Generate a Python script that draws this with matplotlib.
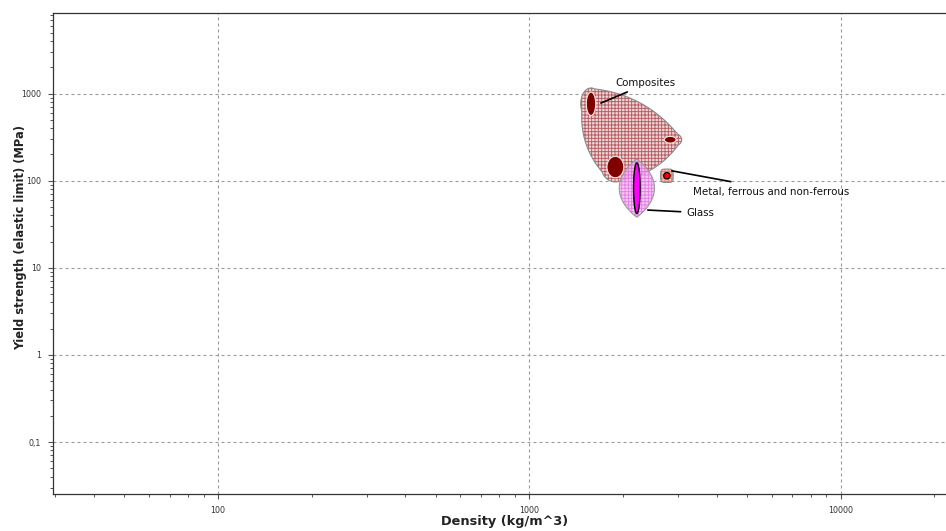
import numpy as np
import matplotlib
matplotlib.use("Agg")
import matplotlib.pyplot as plt
from matplotlib.patches import Polygon
from matplotlib.ticker import FixedLocator, FixedFormatter, LogLocator, NullFormatter

# ---------------- data ----------------
family_names = ["Composites", "Metal, ferrous and non-ferrous", "Glass"]

# material bubbles: density range (kg/m^3) and yield strength range (MPa)
comp_density_lo = [1524, 2715, 1775]
comp_density_hi = [1633, 2960, 2010]
comp_strength_lo = [560, 270, 108]
comp_strength_hi = [1037, 322, 190]

metal_density_lo = [2701]
metal_density_hi = [2832]
metal_strength_lo = [104.6]
metal_strength_hi = [123.8]

glass_density_lo = [2161]
glass_density_hi = [2269]
glass_strength_lo = [42]
glass_strength_hi = [160]

x_ticks = [100, 1000, 10000]
x_tick_labels = ["100", "1000", "10000"]
y_ticks = [0.1, 1, 10, 100, 1000]
y_tick_labels = ["0,1", "1", "10", "100", "1000"]

x_limits = [29.5, 22100]
y_limits = [0.0253, 8400]

# label anchor (data units) and leader lines (data units)
comp_label_xy = [2355, 1310]
comp_leader_x = [1690, 2072]
comp_leader_y = [772, 1049]
metal_label_xy = [3354, 73.9]
metal_leader_x = [2856, 4457]
metal_leader_y = [130, 97.1]
glass_label_xy = [3192, 42.8]
glass_leader_x = [2390, 3076]
glass_leader_y = [46.0, 43.96]

# ---------------- figure ----------------
W, H, DPI = 946, 531, 100
fig = plt.figure(figsize=(W / DPI, H / DPI), dpi=DPI)
ax = fig.add_axes([53 / W, 37 / H, 1 - 53 / W + 0.002, (494 - 13) / H])
ax.set_xscale("log")
ax.set_yscale("log")
ax.set_xlim(*x_limits)
ax.set_ylim(*y_limits)


def log_centers(lo, hi):
    lo = np.log10(np.asarray(lo, float))
    hi = np.log10(np.asarray(hi, float))
    return (lo + hi) / 2, (hi - lo) / 2


def shape_points(cx, cy, a, b, kind="ellipse", n=240):
    t = np.linspace(0, 2 * np.pi, n, endpoint=False)
    if kind == "ellipse":
        u, v = np.cos(t), np.sin(t)
    elif kind == "lens":
        v = np.sin(t)
        u = np.sign(np.cos(t)) * np.clip(1 - v ** 2, 0, None) ** 0.95
    else:  # rounded square (superellipse)
        p = 2 / 4.5
        u = np.sign(np.cos(t)) * np.abs(np.cos(t)) ** p
        v = np.sign(np.sin(t)) * np.abs(np.sin(t)) ** p
    return cx + a * u, cy + b * v


def to_disp(lx, ly):
    return ax.transData.transform(np.column_stack([10 ** lx, 10 ** ly]))


def to_data(P):
    return ax.transData.inverted().transform(P)


def hull(P):
    pts = sorted(map(tuple, P))
    def cross(o, a, b):
        return (a[0] - o[0]) * (b[1] - o[1]) - (a[1] - o[1]) * (b[0] - o[0])
    lower, upper = [], []
    for p in pts:
        while len(lower) >= 2 and cross(lower[-2], lower[-1], p) <= 0:
            lower.pop()
        lower.append(p)
    for p in reversed(pts):
        while len(upper) >= 2 and cross(upper[-2], upper[-1], p) <= 0:
            upper.pop()
        upper.append(p)
    return np.array(lower[:-1] + upper[:-1])


def bulge_and_smooth(Hp, frac=0.1, minlen=10, iters=3):
    out = []
    m = len(Hp)
    for i in range(m):
        p, q = Hp[i], Hp[(i + 1) % m]
        d = q - p
        L = np.hypot(*d)
        out.append(p)
        if L > minlen:
            nrm = np.array([d[1], -d[0]]) / L
            for s in np.linspace(0, 1, int(L / 2) + 2)[1:-1]:
                out.append(p + d * s + nrm * frac * L * 4 * s * (1 - s))
    P = np.array(out)
    for _ in range(iters):
        Q = np.roll(P, -1, axis=0)
        P = np.vstack([0.75 * P + 0.25 * Q, 0.25 * P + 0.75 * Q]).reshape(2, -1, 2).transpose(1, 0, 2).reshape(-1, 2)
    return P


def envelope(lo_x, hi_x, lo_y, hi_y, pad, kind):
    cx, ax_ = log_centers(lo_x, hi_x)
    cy, ay_ = log_centers(lo_y, hi_y)
    allp = []
    for i in range(len(cx)):
        lx, ly = shape_points(cx[i], cy[i], ax_[i] + pad[0], ay_[i] + pad[1], kind)
        allp.append(to_disp(lx, ly))
    Hp = hull(np.vstack(allp))
    if len(cx) > 1:
        Hp = bulge_and_smooth(Hp)
    return to_data(Hp)


def draw_envelope(P, face, hatchc, edge, alpha, z):
    ax.add_patch(Polygon(P, closed=True, facecolor=face, edgecolor="none", alpha=alpha, zorder=z))
    ax.add_patch(Polygon(P, closed=True, facecolor="none", edgecolor=hatchc, hatch="+++++",
                         linewidth=0, alpha=alpha, zorder=z + 0.1))
    ax.add_patch(Polygon(P, closed=True, fill=False, edgecolor=edge, linewidth=0.8, zorder=z + 0.2))


def draw_bubbles(lo_x, hi_x, lo_y, hi_y, face, edge, lw, z):
    cx, ax_ = log_centers(lo_x, hi_x)
    cy, ay_ = log_centers(lo_y, hi_y)
    for i in range(len(cx)):
        lx, ly = shape_points(cx[i], cy[i], ax_[i], ay_[i], "ellipse")
        ax.add_patch(Polygon(np.column_stack([10 ** lx, 10 ** ly]), closed=True,
                             facecolor=face, edgecolor=edge, linewidth=lw, zorder=z))


plt.rcParams["hatch.linewidth"] = 0.65

env_comp = envelope(comp_density_lo, comp_density_hi, comp_strength_lo, comp_strength_hi,
                    (0.018, 0.048), "ellipse")
env_glass = envelope(glass_density_lo, glass_density_hi, glass_strength_lo, glass_strength_hi,
                     (0.046, 0.043), "lens")
env_metal = envelope(metal_density_lo, metal_density_hi, metal_strength_lo, metal_strength_hi,
                     (0.0097, 0.04), "square")

draw_envelope(env_comp, "#ecd8d6", "#b85a62", "#8a8a8a", 1.0, 2)
draw_envelope(env_glass, "#f4b6f4", "#e066e0", "#9a9a9a", 0.75, 3)
draw_envelope(env_metal, "#f2bdb5", "#d98078", "#8a8a8a", 1.0, 3)

draw_bubbles(comp_density_lo, comp_density_hi, comp_strength_lo, comp_strength_hi,
             "#800000", "#f3e4e4", 0.8, 5)
draw_bubbles(glass_density_lo, glass_density_hi, glass_strength_lo, glass_strength_hi,
             "#ff00ff", "#000000", 1.0, 5)
draw_bubbles(metal_density_lo, metal_density_hi, metal_strength_lo, metal_strength_hi,
             "#ff0000", "#000000", 0.9, 5)

# labels + leaders
lab_font = dict(fontsize=7.4, color="#111111", family="DejaVu Sans", zorder=7)
ax.plot(comp_leader_x, comp_leader_y, color="black", lw=1.2, zorder=6, solid_capstyle="butt")
ax.text(comp_label_xy[0], comp_label_xy[1], family_names[0], ha="center", va="center", **lab_font)
ax.plot(metal_leader_x, metal_leader_y, color="black", lw=1.2, zorder=6, solid_capstyle="butt")
ax.text(metal_label_xy[0], metal_label_xy[1], family_names[1], ha="left", va="center", **lab_font)
ax.plot(glass_leader_x, glass_leader_y, color="black", lw=1.2, zorder=6, solid_capstyle="butt")
ax.text(glass_label_xy[0], glass_label_xy[1], family_names[2], ha="left", va="center", **lab_font)

# axes styling
ax.xaxis.set_major_locator(FixedLocator(x_ticks))
ax.xaxis.set_major_formatter(FixedFormatter(x_tick_labels))
ax.yaxis.set_major_locator(FixedLocator(y_ticks))
ax.yaxis.set_major_formatter(FixedFormatter(y_tick_labels))
ax.xaxis.set_minor_locator(LogLocator(base=10, subs=np.arange(2, 10), numticks=20))
ax.yaxis.set_minor_locator(LogLocator(base=10, subs=np.arange(2, 10), numticks=20))
ax.xaxis.set_minor_formatter(NullFormatter())
ax.yaxis.set_minor_formatter(NullFormatter())

ax.tick_params(which="major", direction="out", length=3.5, width=0.8, color="#555555",
               labelsize=5.8, labelcolor="#333333", pad=5)
ax.tick_params(which="minor", direction="out", length=2.2, width=0.7, color="#555555")

ax.grid(True, which="major", color="#9a9a9a", linewidth=0.8, linestyle=(0, (2.7, 2.7)))
ax.set_axisbelow(True)
for side in ["left", "bottom", "top"]:
    ax.spines[side].set_color("#333333")
    ax.spines[side].set_linewidth(0.9)
ax.spines["right"].set_visible(False)

ax.set_xlabel("Density (kg/m^3)", fontsize=9.3, fontweight="bold", color="#222222")
ax.set_ylabel("Yield strength (elastic limit) (MPa)", fontsize=8.3, fontweight="bold", color="#222222")
ax.xaxis.set_label_coords(0.505, -0.044)
ax.yaxis.set_label_coords(-0.029, 0.534)

fig.savefig("out.png", dpi=DPI)
